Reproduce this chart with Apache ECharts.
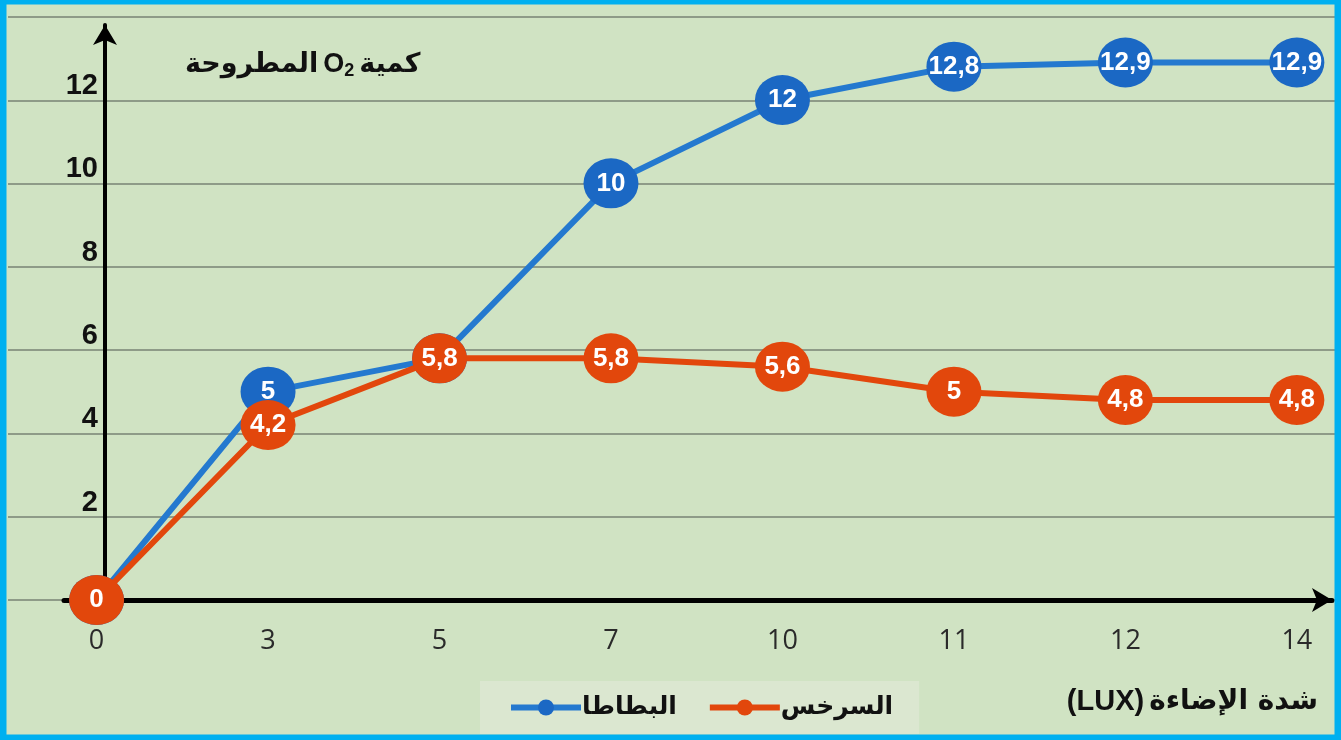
<!DOCTYPE html>
<html>
<head>
<meta charset="utf-8">
<script src="https://cdn.jsdelivr.net/npm/echarts@6/dist/echarts.min.js"></script>
<style>
html,body{margin:0;padding:0;background:#d0e3c3;}
#c{width:1341px;height:740px;}
</style>
</head>
<body>
<div id="c"></div>
<script>
// ---- data ----
var categories = ['0', '3', '5', '7', '10', '11', '12', '14'];
var potato = [0, 5, 5.8, 10, 12, 12.8, 12.9, 12.9];   // البطاطا
var fern = [0, 4.2, 5.8, 5.8, 5.6, 5, 4.8, 4.8];        // السرخس
var seriesNames = ['البطاطا', 'السرخس'];
var yTicks = [0, 2, 4, 6, 8, 10, 12, 14];

var BLUE = '#1b68c4', BLUE_LINE = '#2479cf';
var ORANGE = '#e2470c';
var arFont = '"DejaVu Sans", "Noto Sans", sans-serif';

function toPoints(arr) { return arr.map(function (v, i) { return [i, v]; }); }
function fmt(p) { return String(p.value[1]).replace('.', ','); }

var chart = echarts.init(document.getElementById('c'), null, {renderer: 'canvas'});
var labelStyle = {show: true, position: 'inside', formatter: fmt, color: '#fff',
  fontFamily: '"Liberation Sans", Arial, sans-serif', fontWeight: 'bold', fontSize: 26};
var option = {
  backgroundColor: '#d0e3c3',
  animation: false,
  title: [
    {
      text: '{ar|المطروحة} {o|O}{sub|2} {ar|كمية}',
      left: 180, top: 45,
      textStyle: {
        rich: {
          ar: {fontFamily: arFont, fontWeight: 'bold', fontSize: 27, color: '#111'},
          o: {fontFamily: 'Liberation Sans', fontWeight: 'bold', fontSize: 27, color: '#111'},
          sub: {fontFamily: 'Liberation Sans', fontWeight: 'bold', fontSize: 18, color: '#111', padding: [12, 0, 0, 0]}
        }
      }
    },
    {
      text: '{a|(LUX)} {ar|شدة الإضاءة}',
      right: 18, top: 682,
      textStyle: {
        rich: {
          a: {fontFamily: 'Liberation Sans', fontWeight: 'bold', fontSize: 29, color: '#111'},
          ar: {fontFamily: arFont, fontWeight: 'bold', fontSize: 28, color: '#111'}
        }
      }
    }
  ],
  legend: {
    data: seriesNames,
    left: 480, top: 681,
    padding: [14, 26, 14, 28],
    backgroundColor: '#dbe7d0',
    itemWidth: 70, itemHeight: 20, itemGap: 30,
    lineStyle: {width: 6},
    textStyle: {fontFamily: arFont, fontWeight: 'bold', fontSize: 25, color: '#111', padding: [0, 0, 0, -4]}
  },
  grid: [
    {left: 8, right: 6, top: 17, bottom: 140},
    {left: 64, right: 9, top: 25, bottom: 140}
  ],
  xAxis: [
    {gridIndex: 0, type: 'value', show: false, min: 0, max: 1},
    {
      gridIndex: 1, type: 'value', min: -0.19, max: 7.205,
      axisLine: {show: true, onZero: false, symbol: ['none', 'arrow'], symbolSize: [18, 20],
                 lineStyle: {color: '#000', width: 5}},
      axisTick: {show: false},
      splitLine: {show: false},
      axisLabel: {
        customValues: categories.map(function (c, i) { return i; }),
        formatter: function (v) { return categories[Math.round(v)]; },
        fontFamily: '"Open Sans", sans-serif', fontSize: 27, color: '#2a2a2a', margin: 28
      }
    }
  ],
  yAxis: [
    {
      gridIndex: 0, type: 'value', min: 0, max: 14, interval: 2,
      axisLine: {show: false}, axisTick: {show: false}, axisLabel: {show: false},
      splitLine: {show: true, lineStyle: {color: '#8e9b88', width: 2}}
    },
    {
      gridIndex: 1, type: 'value', min: 0, max: 13.8, interval: 2, offset: -41,
      axisLine: {show: true, onZero: false, symbol: ['none', 'arrow'], symbolSize: [18, 20],
                 lineStyle: {color: '#000', width: 4}},
      axisTick: {show: false},
      splitLine: {show: false},
      axisLabel: {
        showMinLabel: false, showMaxLabel: false, margin: 7,
        verticalAlign: 'bottom', lineHeight: 28,
        fontFamily: '"Liberation Sans", Arial, sans-serif', fontWeight: 'bold', fontSize: 29, color: '#111',
        formatter: function (v) { return yTicks.indexOf(v) >= 0 ? String(v) : ''; }
      }
    }
  ],
  series: [
    {
      name: seriesNames[0], type: 'line', xAxisIndex: 1, yAxisIndex: 1, z: 2,
      data: toPoints(potato),
      symbol: 'circle', symbolSize: [55, 50],
      itemStyle: {color: BLUE},
      lineStyle: {color: BLUE_LINE, width: 6},
      label: labelStyle
    },
    {
      name: seriesNames[1], type: 'line', xAxisIndex: 1, yAxisIndex: 1, z: 3,
      data: toPoints(fern),
      symbol: 'circle', symbolSize: [55, 50],
      itemStyle: {color: ORANGE},
      lineStyle: {color: ORANGE, width: 6},
      label: labelStyle
    }
  ],
  graphic: [
    {type: 'rect', z: 100, silent: true,
     shape: {x: 3, y: 1, width: 1335, height: 737},
     style: {fill: 'none', stroke: '#00b0f0', lineWidth: 7}}
  ]
};
chart.setOption(option);
</script>
</body>
</html>
